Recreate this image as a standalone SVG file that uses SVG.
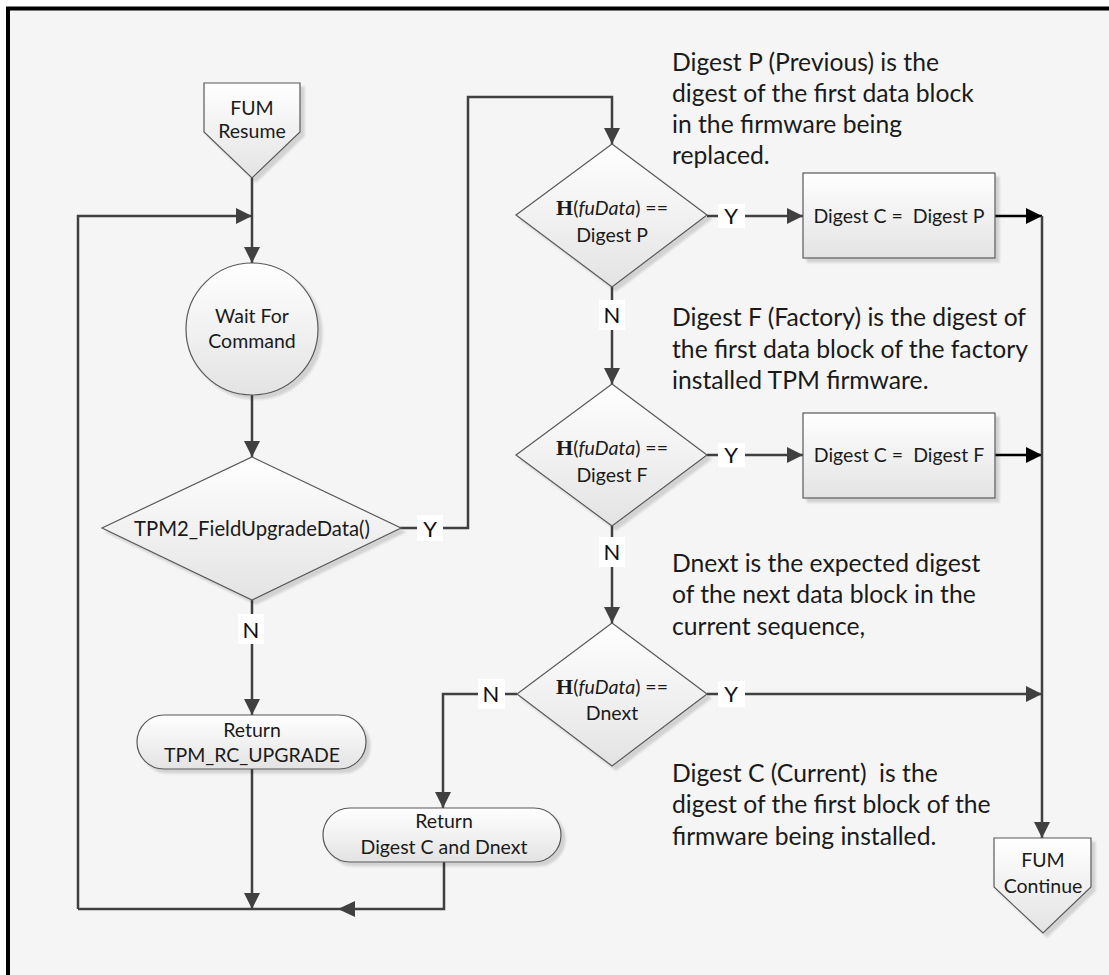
<svg xmlns="http://www.w3.org/2000/svg" width="1109" height="975" viewBox="0 0 1109 975">
<defs>
<style>
.shape{fill:url(#g);stroke:#595959;stroke-width:1.2;filter:url(#sh)}
.t{font-family:Lato,"Liberation Sans",sans-serif;font-size:19.5px;fill:#1a1a1a;text-anchor:middle}
.ann{font-family:Lato,"Liberation Sans",sans-serif;font-size:24.7px;fill:#1a1a1a}
.lbl{font-family:Lato,"Liberation Sans",sans-serif;font-size:22px;fill:#111;text-anchor:middle}
.lb{fill:#ffffff}
.c{fill:none;stroke:#404040;stroke-width:2.5}
.k{fill:none;stroke:#000;stroke-width:2.5}
.h{font-family:"Liberation Serif",serif;font-weight:bold;font-size:22px}
.i{font-style:italic}
</style>
<linearGradient id="g" x1="0" y1="0" x2="0" y2="1">
<stop offset="0" stop-color="#ffffff"/>
<stop offset="1" stop-color="#e3e3e3"/>
</linearGradient>
<filter id="sh" x="-10%" y="-10%" width="130%" height="130%">
<feDropShadow dx="4" dy="4" stdDeviation="1.2" flood-color="#000" flood-opacity="0.14"/>
</filter>
<marker id="a" viewBox="0 0 16 16" refX="16" refY="8" markerWidth="16" markerHeight="16" markerUnits="userSpaceOnUse" orient="auto">
<path d="M0,0 L16,8 L0,16 z" fill="#404040"/>
</marker>
<marker id="ak" viewBox="0 0 16 16" refX="16" refY="8" markerWidth="16" markerHeight="16" markerUnits="userSpaceOnUse" orient="auto">
<path d="M0,0 L16,8 L0,16 z" fill="#000"/>
</marker>
</defs>
<rect x="0" y="0" width="1109" height="975" fill="#ffffff"/>
<rect x="8" y="8" width="1101" height="967" fill="#f5f5f5"/>
<path d="M8,975 L8,8.5 L1109,8.5" fill="none" stroke="#000" stroke-width="4"/>

<g id="connectors">
<path class="c" d="M252,178 L252,263" marker-end="url(#a)"/>
<path class="c" d="M78,909 L78,216 L252,216" marker-end="url(#a)"/>
<path class="c" d="M252,395 L252,457" marker-end="url(#a)"/>
<path class="c" d="M400,528 L468,528 L468,97 L612,97 L612,144" marker-end="url(#a)"/>
<path class="c" d="M252,600 L252,715" marker-end="url(#a)"/>
<path class="c" d="M252,769 L252,909" marker-end="url(#a)"/>
<path class="c" d="M707,216 L803,216" marker-end="url(#a)"/>
<path class="k" d="M995,216 L1042,216" marker-end="url(#ak)"/>
<path class="c" d="M612,287 L612,384" marker-end="url(#a)"/>
<path class="c" d="M707,455 L803,455" marker-end="url(#a)"/>
<path class="k" d="M995,455 L1042,455" marker-end="url(#ak)"/>
<path class="c" d="M612,526 L612,623" marker-end="url(#a)"/>
<path class="c" d="M707,694 L1042,694" marker-end="url(#a)"/>
<path class="c" d="M517,694 L443,694 L443,808" marker-end="url(#a)"/>
<path class="c" d="M444,862 L444,909 L78,909"/>
<polygon points="338,909 355,901 355,917" fill="#404040"/>
<path class="c" d="M1042,216 L1042,838" marker-end="url(#a)"/>
<rect class="lb" x="417" y="515" width="26" height="26"/>
<text class="lbl" x="430" y="537">Y</text>
<rect class="lb" x="238" y="614" width="26" height="30"/>
<text class="lbl" x="251" y="638">N</text>
<rect class="lb" x="718" y="204" width="27" height="24"/>
<text class="lbl" x="731" y="224">Y</text>
<rect class="lb" x="599" y="300" width="26" height="30"/>
<text class="lbl" x="612" y="323">N</text>
<rect class="lb" x="718" y="443" width="27" height="24"/>
<text class="lbl" x="731" y="463">Y</text>
<rect class="lb" x="599" y="537" width="26" height="30"/>
<text class="lbl" x="612" y="560">N</text>
<rect class="lb" x="718" y="681" width="27" height="26"/>
<text class="lbl" x="731" y="702">Y</text>
<rect class="lb" x="478" y="679" width="27" height="30"/>
<text class="lbl" x="491" y="702">N</text>
</g>

<g id="fum-resume">
<path class="shape" d="M204,83 L300,83 L300,132 L252,178 L204,132 Z"/>
<text class="t" x="252" y="115">FUM</text>
<text class="t" x="252" y="138">Resume</text>
</g>

<g id="wait-for-command">
<circle class="shape" cx="252" cy="329" r="66"/>
<text class="t" x="252" y="323">Wait For</text>
<text class="t" x="252" y="348">Command</text>
</g>

<g id="tpm2-field-upgrade">
<path class="shape" d="M252,457 L401,528 L252,600 L102,528 Z"/>
<text class="t" x="252" y="536" style="font-size:20.3px">TPM2_FieldUpgradeData()</text>
</g>

<g id="return-upgrade">
<rect class="shape" x="137" y="715" width="229" height="54" rx="27" ry="27"/>
<text class="t" x="252" y="737">Return</text>
<text class="t" x="252" y="762">TPM_RC_UPGRADE</text>
</g>

<g id="check-digest-p">
<path class="shape" d="M612,144 L707,215 L612,287 L516,215 Z"/>
<text class="t" x="612" y="215"><tspan class="h">H</tspan>(<tspan class="i">fuData</tspan>) ==</text>
<text class="t" x="612" y="242">Digest P</text>
</g>

<g id="set-digest-p">
<rect class="shape" x="803" y="173" width="192" height="85"/>
<text class="t" x="899" y="223">Digest C =&#160; Digest P</text>
</g>

<g id="check-digest-f">
<path class="shape" d="M612,384 L707,455 L612,526 L516,455 Z"/>
<text class="t" x="612" y="455"><tspan class="h">H</tspan>(<tspan class="i">fuData</tspan>) ==</text>
<text class="t" x="612" y="482">Digest F</text>
</g>

<g id="set-digest-f">
<rect class="shape" x="803" y="413" width="192" height="85"/>
<text class="t" x="899" y="462">Digest C =&#160; Digest F</text>
</g>

<g id="check-dnext">
<path class="shape" d="M612,623 L707,694 L612,766 L517,694 Z"/>
<text class="t" x="612" y="694"><tspan class="h">H</tspan>(<tspan class="i">fuData</tspan>) ==</text>
<text class="t" x="612" y="720">Dnext</text>
</g>

<g id="return-digest">
<rect class="shape" x="323" y="808" width="238" height="54" rx="27" ry="27"/>
<text class="t" x="444" y="828">Return</text>
<text class="t" x="444" y="854">Digest C and Dnext</text>
</g>

<g id="fum-continue">
<path class="shape" d="M994,838 L1091,838 L1091,887 L1043,933 L994,887 Z"/>
<text class="t" x="1043" y="867">FUM</text>
<text class="t" x="1043" y="893">Continue</text>
</g>

<g id="notes">
<text class="ann" x="672" y="71">Digest P (Previous) is the</text>
<text class="ann" x="672" y="102">digest of the first data block</text>
<text class="ann" x="672" y="133">in the firmware being</text>
<text class="ann" x="672" y="164">replaced.</text>
<text class="ann" x="672" y="326">Digest F (Factory) is the digest of</text>
<text class="ann" x="672" y="358">the first data block of the factory</text>
<text class="ann" x="672" y="389">installed TPM firmware.</text>
<text class="ann" x="672" y="572">Dnext is the expected digest</text>
<text class="ann" x="672" y="603">of the next data block in the</text>
<text class="ann" x="672" y="635">current sequence,</text>
<text class="ann" x="672" y="782">Digest C (Current)&#160; is the</text>
<text class="ann" x="672" y="813">digest of the first block of the</text>
<text class="ann" x="672" y="845">firmware being installed.</text>
</g>
</svg>
